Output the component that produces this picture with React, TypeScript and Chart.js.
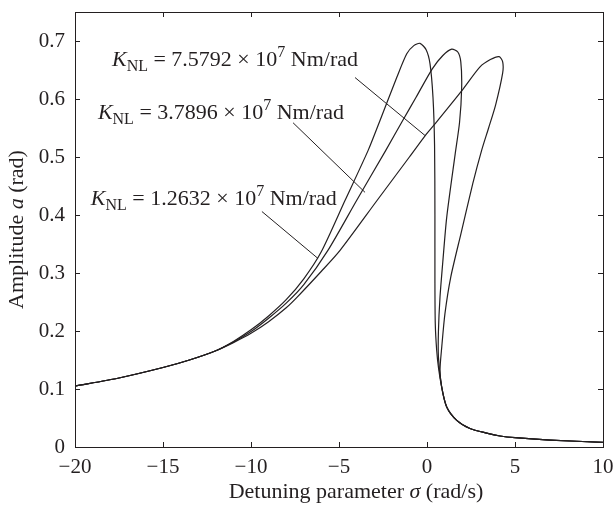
import React, { useEffect, useRef } from "react";
import { Chart, registerables } from "chart.js";

Chart.register(...registerables);

// ---------- data ----------
const X_TICKS = [-20, -15, -10, -5, 0, 5, 10];
const Y_TICKS = [0, 0.1, 0.2, 0.3, 0.4, 0.5, 0.6, 0.7];

// K_NL = 1.2632e7 Nm/rad
const K1_SIGMA = [-20, -17.5, -15, -13.5, -12, -11, -10, -9, -8, -7, -6, -4.66, -3.35, -2.67, -1.72, -1.15, -0.75, -0.4, -0.05, 0.17, 0.34, 0.43, 0.45, 0.45, 0.47, 0.55, 0.66, 0.83, 1.12, 1.69, 2.44, 3.39, 4.15, 5, 7, 10];
const K1_AMP = [0.105, 0.119, 0.137, 0.15, 0.166, 0.182, 0.202, 0.226, 0.254, 0.29, 0.337, 0.425, 0.511, 0.563, 0.637, 0.678, 0.692, 0.696, 0.685, 0.661, 0.603, 0.52, 0.4, 0.287, 0.213, 0.167, 0.135, 0.104, 0.069, 0.046, 0.032, 0.024, 0.019, 0.016, 0.012, 0.008];

// K_NL = 3.7896e7 Nm/rad
const K2_SIGMA = [-20, -17.5, -15, -13.5, -12, -11, -10, -9, -8, -7, -5.63, -4.0, -2.35, -1.38, -0.62, 0.3, 0.9, 1.4, 1.75, 1.92, 1.97, 1.85, 1.6, 1.12, 0.9, 0.74, 0.65, 0.65, 0.83, 1.12, 1.69, 2.44, 3.39, 4.15, 5, 7, 10];
const K2_AMP = [0.105, 0.119, 0.137, 0.15, 0.166, 0.181, 0.199, 0.222, 0.248, 0.28, 0.339, 0.425, 0.511, 0.563, 0.603, 0.652, 0.675, 0.686, 0.681, 0.664, 0.62, 0.56, 0.505, 0.396, 0.32, 0.259, 0.2, 0.155, 0.104, 0.069, 0.046, 0.032, 0.024, 0.019, 0.016, 0.012, 0.008];

// K_NL = 7.5792e7 Nm/rad
const K3_SIGMA = [-20, -17.5, -15, -13.5, -12, -11, -10, -9, -8, -7.39, -6, -4.94, -2.84, -1.0, -0.1, 0.45, 1.97, 3.0, 3.6, 4.1, 4.3, 4.3, 3.9, 3.5, 3.1, 2.6, 1.93, 1.35, 1.02, 0.84, 0.74, 0.83, 1.12, 1.69, 2.44, 3.39, 4.15, 5, 7, 10];
const K3_AMP = [0.105, 0.119, 0.137, 0.15, 0.166, 0.18, 0.196, 0.216, 0.24, 0.258, 0.303, 0.339, 0.425, 0.5, 0.537, 0.557, 0.614, 0.655, 0.668, 0.673, 0.664, 0.645, 0.59, 0.55, 0.511, 0.454, 0.368, 0.293, 0.23, 0.173, 0.133, 0.104, 0.069, 0.046, 0.032, 0.024, 0.019, 0.016, 0.012, 0.008];

// annotations (data units)
const LABEL_K = ["7.5792", "3.7896", "1.2632"];
const LABEL_SIGMA = [-17.9, -18.7, -19.1];
const LABEL_AMP = [0.657, 0.566, 0.417];
const LEADER_FROM_SIGMA = [-4.09, -7.61, -9.38];
const LEADER_FROM_AMP = [0.637, 0.559, 0.406];
const LEADER_TO_SIGMA = [-0.11, -3.52, -6.19];
const LEADER_TO_AMP = [0.537, 0.439, 0.325];

const X_TITLE = ["Detuning parameter ", "σ", " (rad/s)"];
const Y_TITLE = ["Amplitude ", "a", " (rad)"];

// ---------- styling ----------
const FONT = '"Liberation Serif", "Times New Roman", serif';
const INK = "#231f20";
const FS = 21;
const FS_TEXT = 22;

type Seg = { t: string; it?: boolean; sc?: number; dy?: number };

function drawRich(ctx: CanvasRenderingContext2D, segs: Seg[], x: number, y: number, size: number, align: "left" | "center") {
  let total = 0;
  const widths: number[] = [];
  for (const s of segs) {
    ctx.font = `${s.it ? "italic " : ""}${Math.round(size * (s.sc || 1))}px ${FONT}`;
    const w = ctx.measureText(s.t).width;
    widths.push(w);
    total += w;
  }
  let cx = align === "center" ? x - total / 2 : x;
  segs.forEach((s, i) => {
    ctx.font = `${s.it ? "italic " : ""}${Math.round(size * (s.sc || 1))}px ${FONT}`;
    ctx.fillText(s.t, cx, y + (s.dy || 0));
    cx += widths[i];
  });
}

const fmtX = (v: number) => (v < 0 ? "\u2212" + Math.abs(v) : String(v));
const fmtY = (v: number) => (v === 0 ? "0" : v.toFixed(1));

const decor = {
  id: "decor",
  afterDraw(chart: any) {
    const { ctx, chartArea: a, scales } = chart;
    const xs = scales.x;
    const ys = scales.y;
    ctx.save();
    ctx.strokeStyle = INK;
    ctx.lineWidth = 1;
    ctx.strokeRect(a.left + 0.5, a.top + 0.5, a.right - a.left, a.bottom - a.top);
    const TL = 5;
    ctx.beginPath();
    for (const v of X_TICKS) {
      const px = Math.round(xs.getPixelForValue(v)) + 0.5;
      ctx.moveTo(px, a.bottom);
      ctx.lineTo(px, a.bottom - TL);
      ctx.moveTo(px, a.top);
      ctx.lineTo(px, a.top + TL);
    }
    for (const v of Y_TICKS) {
      const py = Math.round(ys.getPixelForValue(v)) + 0.5;
      ctx.moveTo(a.left, py);
      ctx.lineTo(a.left + TL, py);
      ctx.moveTo(a.right, py);
      ctx.lineTo(a.right - TL, py);
    }
    ctx.stroke();

    // leader lines
    ctx.beginPath();
    for (let i = 0; i < LABEL_K.length; i++) {
      ctx.moveTo(xs.getPixelForValue(LEADER_FROM_SIGMA[i]), ys.getPixelForValue(LEADER_FROM_AMP[i]));
      ctx.lineTo(xs.getPixelForValue(LEADER_TO_SIGMA[i]), ys.getPixelForValue(LEADER_TO_AMP[i]));
    }
    ctx.stroke();

    ctx.fillStyle = INK;
    ctx.textBaseline = "alphabetic";
    for (let i = 0; i < LABEL_K.length; i++) {
      const segs: Seg[] = [
        { t: "K", it: true },
        { t: "NL", sc: 0.72, dy: 5 },
        { t: " = " + LABEL_K[i] + " \u00d7 10" },
        { t: "7", sc: 0.72, dy: -9 },
        { t: " Nm/rad" },
      ];
      drawRich(ctx, segs, xs.getPixelForValue(LABEL_SIGMA[i]), ys.getPixelForValue(LABEL_AMP[i]), FS_TEXT, "left");
    }

    // axis titles
    drawRich(
      ctx,
      [{ t: X_TITLE[0] }, { t: X_TITLE[1], it: true }, { t: X_TITLE[2] }],
      (a.left + a.right) / 2 + 17,
      chart.height - 8,
      FS_TEXT,
      "center"
    );
    ctx.save();
    ctx.translate(23, (a.top + a.bottom) / 2);
    ctx.rotate(-Math.PI / 2);
    drawRich(ctx, [{ t: Y_TITLE[0] }, { t: Y_TITLE[1], it: true }, { t: Y_TITLE[2] }], 0, 0, FS_TEXT, "center");
    ctx.restore();
    ctx.restore();
  },
};

function series(sx: number[], sy: number[]) {
  return sx.map((x, i) => ({ x, y: sy[i] }));
}

export default function App() {
  const ref = useRef<HTMLCanvasElement>(null);
  useEffect(() => {
    if (!ref.current) return;
    const ds = (sx: number[], sy: number[]) => ({
      data: series(sx, sy),
      showLine: true,
      borderColor: INK,
      borderWidth: 1.2,
      pointRadius: 0,
      tension: 0.25,
      fill: false,
    });
    const chart = new Chart(ref.current, {
      type: "scatter",
      data: {
        datasets: [ds(K1_SIGMA, K1_AMP), ds(K2_SIGMA, K2_AMP), ds(K3_SIGMA, K3_AMP)],
      },
      options: {
        animation: false,
        responsive: false,
        layout: { autoPadding: false, padding: { left: 0, right: 12, top: 12, bottom: 0 } },
        plugins: { legend: { display: false }, tooltip: { enabled: false } },
        scales: {
          x: {
            type: "linear",
            min: -20,
            max: 10,
            grid: { display: false, drawTicks: false },
            border: { display: false },
            afterBuildTicks: (s: any) => {
              s.ticks = X_TICKS.map((v) => ({ value: v }));
            },
            afterFit: (s: any) => {
              s.height = 59;
              s.paddingLeft = 0;
              s.paddingRight = 0;
            },
            ticks: {
              color: INK,
              font: { family: FONT, size: FS },
              padding: 8,
              maxRotation: 0,
              callback: (v: any) => fmtX(Number(v)),
            },
          },
          y: {
            type: "linear",
            min: 0,
            max: 0.75,
            grid: { display: false, drawTicks: false },
            border: { display: false },
            afterBuildTicks: (s: any) => {
              s.ticks = Y_TICKS.map((v) => ({ value: v }));
            },
            afterFit: (s: any) => {
              s.width = 75;
              s.paddingTop = 0;
              s.paddingBottom = 0;
            },
            ticks: {
              color: INK,
              font: { family: FONT, size: FS },
              padding: 10,
              callback: (v: any) => fmtY(Number(v)),
            },
          },
        },
      },
      plugins: [decor],
    });
    return () => chart.destroy();
  }, []);
  return (
    <div style={{ position: "fixed", left: 0, top: 0, width: 615, height: 506, background: "#fff" }}>
      <canvas ref={ref} width={615} height={506} style={{ display: "block" }} />
    </div>
  );
}
